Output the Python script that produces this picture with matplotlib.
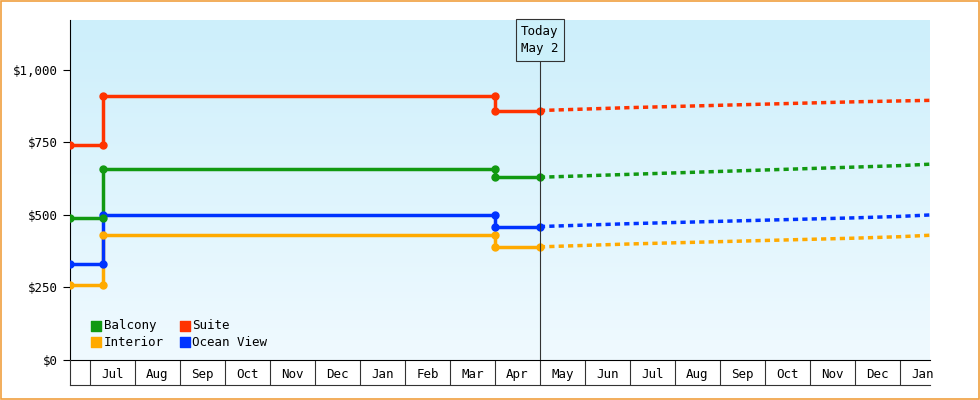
import matplotlib
matplotlib.use("Agg")
import matplotlib.pyplot as plt
import numpy as np
from matplotlib.patches import Rectangle
from matplotlib.colors import LinearSegmentedColormap

plt.rcParams['font.family'] = ['DejaVu Sans Mono']

months = ["Jul","Aug","Sep","Oct","Nov","Dec","Jan","Feb","Mar","Apr","May","Jun","Jul","Aug","Sep","Oct","Nov","Dec","Jan"]
hist_x = [-0.44, 0.29, 0.29, 9.0, 9.0, 10.0]
balcony = [490, 490, 660, 660, 630, 630]
suite = [740, 740, 910, 910, 860, 860]
interior = [260, 260, 430, 430, 390, 390]
ocean = [330, 330, 500, 500, 460, 460]
fc_x = [10.0, 11, 12, 13, 14, 15, 16, 17, 18, 18.67]
balcony_fc = [630, 635, 640, 645, 650, 655, 660, 665, 670, 675]
suite_fc = [860, 865, 870, 874, 878, 882, 886, 890, 893, 895]
interior_fc = [390, 395, 400, 404, 408, 412, 416, 420, 425, 430]
ocean_fc = [460, 465, 470, 474, 478, 482, 486, 490, 495, 500]

fig = plt.figure(figsize=(9.8, 4), dpi=100)
fig.patch.set_facecolor('white')
fig.patches.append(Rectangle((0.001, 0.002), 0.998, 0.996, transform=fig.transFigure,
                             fill=False, edgecolor='#f0a040', lw=1.2))
ax = fig.add_axes([70/980, 40/400, 860/980, 340/400])
xmin, xmax, ymin, ymax = -0.444, 18.67, 0, 1172
grad = np.linspace(1, 0, 256).reshape(-1, 1)
cm = LinearSegmentedColormap.from_list('g', ['#f0faff', '#cdeffb'])
ax.imshow(grad, extent=[xmin, xmax, ymin, ymax], aspect='auto', cmap=cm, origin='upper', zorder=0)
ax.set_xlim(xmin, xmax); ax.set_ylim(ymin, ymax)

series = [("Balcony", balcony, balcony_fc, '#119911'),
          ("Suite", suite, suite_fc, '#ff3300'),
          ("Interior", interior, interior_fc, '#ffaa00'),
          ("Ocean View", ocean, ocean_fc, '#0033ff')]
handles = {}
for i in [2, 3, 0, 1]:
    name, h, f, c = series[i]
    ax.plot(hist_x, h, color=c, lw=2.5, zorder=3)
    ax.plot(hist_x, h, 'o', color=c, ms=5, zorder=4)
    ax.plot(fc_x, f, color=c, lw=2.5, ls=(0, (1.5, 1.2)), zorder=3)
    handles[name] = ax.scatter([], [], marker='s', color=c, s=60)

ax.axvline(10.0, color='#333333', lw=0.8, zorder=5)
ax.text(10.0, 1103, "Today\nMay 2", ha='center', va='center', fontsize=9,
        linespacing=1.4, bbox=dict(boxstyle='square,pad=0.45', fc='#ccf0fa', ec='#333333', lw=0.8), zorder=6)

ax.set_yticks([0, 250, 500, 750, 1000])
ax.set_yticklabels(["$0", "$250", "$500", "$750", "$1,000"], fontsize=9)
ax.set_xticks(np.arange(0, 19))
ax.set_xticklabels([])
ax.tick_params(axis='x', which='major', length=18, width=0.8, color='#333333')
ax.set_xticks(np.arange(0.5, 19), minor=True)
ax.set_xticklabels(months, minor=True, fontsize=9)
ax.tick_params(axis='x', which='minor', length=0, pad=6)
ax.tick_params(axis='y', length=5)
for s in ['top', 'right']:
    ax.spines[s].set_visible(False)
fig.add_artist(plt.Line2D([70/980, 930/980], [15/400, 15/400], color='#333333', lw=0.8))
fig.add_artist(plt.Line2D([70/980, 70/980], [15/400, 40/400], color='#333333', lw=0.8))

ax.legend([handles[n] for n in ["Balcony", "Interior", "Suite", "Ocean View"]],
          ["Balcony", "Interior", "Suite", "Ocean View"], ncol=2, loc='lower left',
          bbox_to_anchor=(0.01, 0.0), frameon=False, fontsize=9,
          handletextpad=0.1, columnspacing=1.2, handlelength=1, labelspacing=0.3)
fig.savefig("out.png", dpi=100)
